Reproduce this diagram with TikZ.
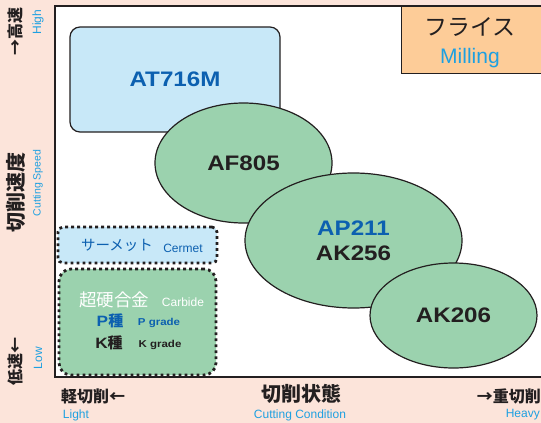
\documentclass[tikz,border=0pt]{standalone}
\usepackage{fontspec}
\setmainfont{Liberation Sans}
\newfontfamily\jpfont{Noto Sans CJK JP}
\newfontfamily\widefont[FakeStretch=1.15]{Liberation Sans}
\usetikzlibrary{shapes.geometric,positioning}

\definecolor{peach}{RGB}{252,228,218}
\definecolor{skyfill}{RGB}{200,232,248}
\definecolor{mintfill}{RGB}{155,210,174}
\definecolor{orangefill}{RGB}{253,204,152}
\definecolor{cyantext}{RGB}{30,160,225}
\definecolor{bluetext}{RGB}{12,96,176}
\definecolor{inkline}{RGB}{35,31,32}

\newcommand{\sz}[2]{\fontsize{#1}{#2}\selectfont}

\begin{document}
\begin{tikzpicture}[x=1pt, y=-1pt,
    every node/.style={inner sep=0pt},
    gradeoval/.style={ellipse, draw=inkline, line width=1.2pt, fill=mintfill},
    gradename/.style={font=\widefont\bfseries\sz{21}{25}, text=inkline},
    dotbox/.style={draw=inkline, line width=2.8pt, dash pattern=on 2.8pt off 3.2pt},
    axisjp/.style={font=\jpfont\bfseries\sz{20}{24}, text=inkline},
    endjp/.style={font=\jpfont\bfseries\sz{16}{19}, text=inkline},
    axisen/.style={font=\sz{12}{14}, text=cyantext}]

    % background and frame
    \fill[peach] (0,0) rectangle (541,423);
    \useasboundingbox (0,0) rectangle (541,423);
    \begin{scope}
        \clip (0,0) rectangle (541,423);
        \draw[inkline, line width=1.5pt, fill=white] (55,6) rectangle (570,377);
        \node[draw=inkline, line width=1.2pt, fill=orangefill, anchor=north west, minimum width=180pt, minimum height=67pt] (millbox) at (401,6) {};
    \end{scope}
    \node[font=\jpfont\sz{23}{26}, text=inkline] (milljp) at (470,27) {フライス};
    \node[below of=milljp, node distance=31pt, font=\sz{21}{24}, text=cyantext] (millen) {Milling};

    % grades
    \node[draw=inkline, line width=1.2pt, fill=skyfill, rounded corners=10pt, minimum width=210pt, minimum height=105pt,
          font=\widefont\bfseries\sz{21}{25}, text=bluetext] (at716m) at (175,79.5) {AT716M};
    \node[gradeoval, gradename, minimum width=177pt, minimum height=120pt] (af805) at (243.5,163) {AF805};
    \node[gradeoval, gradename, minimum width=217pt, minimum height=135pt, align=center] (ak256) at (353.5,240.5) {\textcolor{bluetext}{AP211}\\AK256};
    \node[gradeoval, gradename, minimum width=167pt, minimum height=105pt] (ak206) at (453.5,315.5) {AK206};

    % cermet and carbide
    \node[dotbox, rounded corners=5pt, fill=skyfill, minimum width=159pt, minimum height=36pt] (cermetbox) at (137.5,245) {};
    \node[font=\jpfont\sz{14.5}{17}, text=bluetext] (cermetjp) at (117,245) {サーメット};
    \node[font=\sz{12}{14}, text=bluetext] (cermeten) at (183,248.5) {Cermet};
    \node[dotbox, rounded corners=12pt, fill=mintfill, minimum width=157pt, minimum height=106pt] (carbidebox) at (137.5,322) {};
    \node[font=\jpfont\sz{17.5}{20}, text=white] (carbidejp) at (114,300) {超硬合金};
    \node[font=\sz{12}{14}, text=white] (carbideen) at (183,302) {Carbide};
    \node[font=\sz{15}{18}, text=bluetext] (pgradejp) at (110,321) {{\widefont\bfseries P}{\jpfont\bfseries 種}};
    \node[font=\widefont\bfseries\sz{10}{12}, text=bluetext] (pgradeen) at (159,323) {P grade};
    \node[font=\sz{15}{18}, text=inkline] (kgradejp) at (109,343) {{\widefont\bfseries K}{\jpfont\bfseries 種}};
    \node[font=\widefont\bfseries\sz{10}{12}, text=inkline] (kgradeen) at (160,345) {K grade};

    % vertical axis
    \node[axisjp, rotate=90] (speedjp) at (16,192) {切削速度};
    \node[axisen, rotate=90, font=\sz{10.5}{12}] (speeden) at (38,183) {Cutting Speed};
    \node[endjp, rotate=90] (highjp) at (15,31) {→高速};
    \node[axisen, rotate=90] (highen) at (38,22) {High};
    \node[endjp, rotate=90] (lowjp) at (15,361) {低速←};
    \node[axisen, rotate=90] (lowen) at (38,358) {Low};

    % horizontal axis
    \node[endjp] (lightjp) at (93,396) {軽切削←};
    \node[axisen] (lighten) at (76,415) {Light};
    \node[axisjp] (condjp) at (301,394) {切削状態};
    \node[axisen] (conden) at (300,415) {Cutting Condition};
    \node[endjp, anchor=east] (heavyjp) at (541,396) {→重切削};
    \node[axisen, anchor=east] (heavyen) at (540,415) {Heavy};
\end{tikzpicture}
\end{document}
